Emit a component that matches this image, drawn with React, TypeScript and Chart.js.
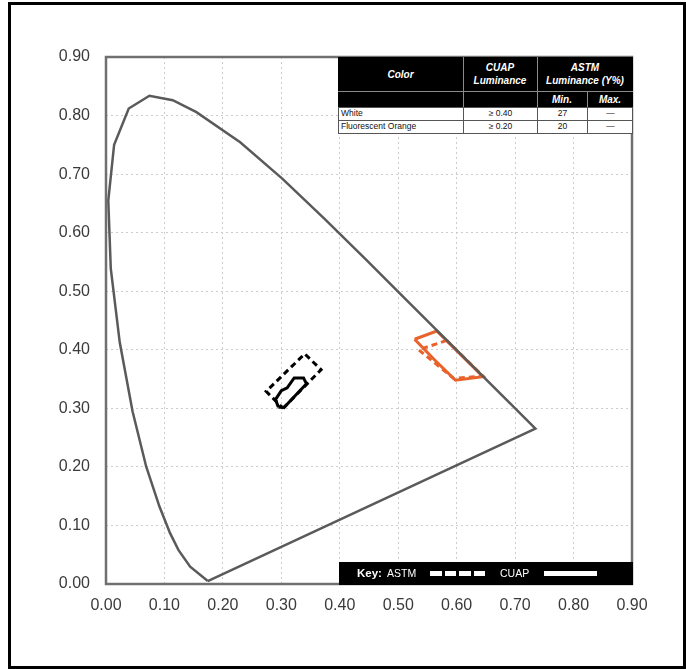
import React, { useEffect, useRef } from "react";
import { Chart, registerables } from "chart.js";

Chart.register(...registerables);

// CIE chromaticity boundary (spectral locus + purple line), closed
const locusX = [0.1741, 0.144, 0.1241, 0.1096, 0.0913, 0.0687, 0.0454, 0.0235, 0.0082, 0.0039, 0.0139, 0.0389, 0.0743, 0.1142, 0.1547, 0.2296, 0.3016, 0.3731, 0.4441, 0.5125, 0.5752, 0.627, 0.6915, 0.7347, 0.1741];
const locusY = [0.005, 0.0297, 0.0578, 0.0868, 0.1327, 0.2007, 0.295, 0.4127, 0.5384, 0.6548, 0.7502, 0.812, 0.8338, 0.8262, 0.8059, 0.7543, 0.6923, 0.6245, 0.5547, 0.4866, 0.4242, 0.3725, 0.3083, 0.2653, 0.005];

// ASTM white (dashed)
const astmWhiteX = [0.303, 0.368, 0.34, 0.274, 0.303];
const astmWhiteY = [0.3, 0.366, 0.393, 0.329, 0.3];
// CUAP white (solid)
const cuapWhiteX = [0.295, 0.305, 0.343, 0.338, 0.322, 0.31, 0.3, 0.29, 0.295];
const cuapWhiteY = [0.302, 0.302, 0.342, 0.352, 0.352, 0.335, 0.33, 0.315, 0.302];
// ASTM fluorescent orange (dashed)
const astmOrangeX = [0.583, 0.535, 0.595, 0.645, 0.583];
const astmOrangeY = [0.416, 0.4, 0.351, 0.355, 0.416];
// CUAP fluorescent orange (solid)
const cuapOrangeX = [0.528, 0.566, 0.645, 0.598, 0.562, 0.528];
const cuapOrangeY = [0.418, 0.432, 0.354, 0.348, 0.383, 0.418];

const tickValues = [0, 0.1, 0.2, 0.3, 0.4, 0.5, 0.6, 0.7, 0.8, 0.9];

const tableHead = ["Color", "CUAP", "Luminance", "ASTM", "Luminance (Y%)", "Min.", "Max."];
const tableRows = [
  ["White", "≥ 0.40", "27", "—"],
  ["Fluorescent Orange", "≥ 0.20", "20", "—"],
];
const keyLabels = ["Key:", "ASTM", "CUAP"];

const pts = (xs: number[], ys: number[]) => xs.map((x, i) => ({ x, y: ys[i] }));

const framePlugin = {
  id: "frame",
  afterDraw(chart: any) {
    const { ctx, chartArea } = chart;
    ctx.save();
    ctx.strokeStyle = "#707070";
    ctx.lineWidth = 2.5;
    ctx.strokeRect(chartArea.left, chartArea.top, chartArea.right - chartArea.left, chartArea.bottom - chartArea.top);
    ctx.restore();
  },
};

const FONT = "'Liberation Sans', Arial, sans-serif";

function App() {
  const ref = useRef<HTMLCanvasElement | null>(null);
  useEffect(() => {
    if (!ref.current) return;
    const line = (data: any, color: string, dash: number[], order: number, width = 3) => ({
      data,
      showLine: true,
      borderColor: color,
      borderWidth: width,
      borderDash: dash,
      pointRadius: 0,
      fill: false,
      tension: 0,
      order,
    });
    const chart = new Chart(ref.current, {
      type: "scatter",
      data: {
        datasets: [
          line(pts(locusX, locusY), "#5a5a5a", [], 0, 2.5),
          line(pts(astmWhiteX, astmWhiteY), "#000000", [6, 4], 1),
          line(pts(cuapWhiteX, cuapWhiteY), "#000000", [], 1),
          line(pts(astmOrangeX, astmOrangeY), "#e8632b", [6, 4], 1),
          line(pts(cuapOrangeX, cuapOrangeY), "#e8632b", [], 1),
        ] as any,
      },
      options: {
        animation: false,
        responsive: false,
        layout: { padding: { left: 0, top: 57, right: 54, bottom: 0 } },
        plugins: { legend: { display: false }, tooltip: { enabled: false } },
        scales: {
          x: {
            type: "linear",
            min: 0,
            max: 0.9,
            afterFit: (s: any) => {
              s.height = 85;
            },
            afterBuildTicks: (s: any) => {
              s.ticks = tickValues.map((v) => ({ value: v }));
            },
            ticks: {
              padding: 12,
              color: "#3a3a3a",
              font: { family: FONT, size: 16 },
              callback: (v: any) => Number(v).toFixed(2),
              maxRotation: 0,
            },
            grid: { color: "#cccccc", drawTicks: false, lineWidth: 1 },
            border: { display: false, dash: [2, 3] },
          },
          y: {
            type: "linear",
            min: 0,
            max: 0.9,
            afterFit: (s: any) => {
              s.width = 106;
            },
            afterBuildTicks: (s: any) => {
              s.ticks = tickValues.map((v) => ({ value: v }));
            },
            ticks: {
              padding: 16,
              color: "#3a3a3a",
              font: { family: FONT, size: 16 },
              callback: (v: any) => Number(v).toFixed(2),
            },
            grid: { color: "#cccccc", drawTicks: false, lineWidth: 1 },
            border: { display: false, dash: [2, 3] },
          },
        },
      },
      plugins: [framePlugin],
    });
    return () => chart.destroy();
  }, []);

  const abs = (x: number, y: number, w: number, h: number, extra: any = {}) => ({
    position: "absolute" as const,
    left: x,
    top: y,
    width: w,
    height: h,
    boxSizing: "border-box" as const,
    ...extra,
  });
  const headText = {
    color: "#fff",
    fontFamily: FONT,
    fontWeight: "bold",
    fontStyle: "italic",
    fontSize: 10,
    lineHeight: "13px",
    textAlign: "center" as const,
    whiteSpace: "nowrap" as const,
    display: "flex",
    flexDirection: "column" as const,
    justifyContent: "center",
  };
  const cellText = {
    color: "#111",
    fontFamily: FONT,
    fontSize: 8.5,
    lineHeight: "13px",
    whiteSpace: "nowrap" as const,
  };
  const T = { x: 338, y: 57, w: 295 };
  const cols = [338, 463, 537, 587, 633];
  const hdrLine = "#8a8a8a";
  const RH = 13;

  return (
    <div style={{ position: "absolute", left: 0, top: 0, width: 686, height: 669, background: "#fff", overflow: "hidden" }}>
      <canvas ref={ref} width={686} height={669} style={{ position: "absolute", left: 0, top: 0, width: 686, height: 669 }} />
      {/* outer border */}
      <div style={abs(8, 2, 678, 667, { border: "3px solid #000" })} />
      {/* table header */}
      <div style={abs(T.x, T.y, T.w, 50, { background: "#000" })} />
      <div style={abs(cols[0], 57, cols[1] - cols[0], 34, headText)}>{tableHead[0]}</div>
      <div style={abs(cols[1], 57, cols[2] - cols[1], 34, headText)}>
        <div>{tableHead[1]}</div>
        <div>{tableHead[2]}</div>
      </div>
      <div style={abs(cols[2], 57, cols[4] - cols[2], 34, headText)}>
        <div>{tableHead[3]}</div>
        <div>{tableHead[4]}</div>
      </div>
      <div style={abs(cols[2], 91, cols[3] - cols[2], 16, headText)}>{tableHead[5]}</div>
      <div style={abs(cols[3], 91, cols[4] - cols[3], 16, headText)}>{tableHead[6]}</div>
      <div style={abs(T.x, 91, T.w, 1, { background: hdrLine })} />
      <div style={abs(cols[1], 57, 1, 50, { background: hdrLine })} />
      <div style={abs(cols[2], 57, 1, 50, { background: hdrLine })} />
      <div style={abs(cols[3], 91, 1, 16, { background: hdrLine })} />
      {/* table body */}
      {tableRows.map((r, ri) => {
        const y = 107 + ri * RH;
        return (
          <React.Fragment key={ri}>
            <div style={abs(T.x, y, T.w, RH + 1, { background: "#fff", border: "1px solid #555" })} />
            {r.map((c, ci) => (
              <div
                key={ci}
                style={abs(cols[ci], y, cols[ci + 1] - cols[ci], RH + 1, {
                  ...cellText,
                  textAlign: ci === 0 ? "left" : "center",
                  paddingLeft: ci === 0 ? 3 : 0,
                  borderLeft: ci === 0 ? "none" : "1px solid #555",
                })}
              >
                {c}
              </div>
            ))}
          </React.Fragment>
        );
      })}
      {/* key */}
      <div style={abs(339, 562, 294, 23, { background: "#000" })} />
      <div style={abs(357, 562, 30, 23, { color: "#fff", fontFamily: FONT, fontWeight: "bold", fontSize: 11.5, lineHeight: "23px" })}>{keyLabels[0]}</div>
      <div style={abs(387, 562, 40, 23, { color: "#fff", fontFamily: FONT, fontSize: 10.5, lineHeight: "23px" })}>{keyLabels[1]}</div>
      {[0, 1, 2, 3].map((i) => (
        <div key={i} style={abs(430 + i * 14.5, 571, 11.5, 5, { background: "#fff" })} />
      ))}
      <div style={abs(500, 562, 40, 23, { color: "#fff", fontFamily: FONT, fontSize: 10.5, lineHeight: "23px" })}>{keyLabels[2]}</div>
      <div style={abs(544, 571, 53, 5, { background: "#fff" })} />
    </div>
  );
}

export default App;
